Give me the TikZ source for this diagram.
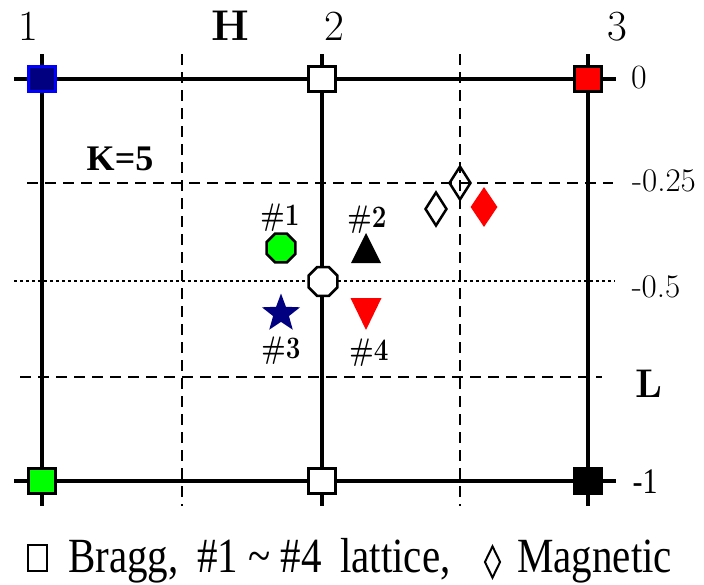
\documentclass[tikz,border=0pt]{standalone}
\usepackage{fontspec}
\newfontfamily\tnr{Liberation Serif}
\usetikzlibrary{shapes.geometric}
\definecolor{navyc}{RGB}{0,0,128}
\definecolor{bluec}{RGB}{0,0,255}
\definecolor{greenc}{RGB}{0,255,0}
\definecolor{redc}{RGB}{255,0,0}
\newcommand{\tallx}[1]{\scalebox{1}[1.2]{#1}}
\begin{document}
\begin{tikzpicture}[x=1pt,y=-1pt,
  gridln/.style={line width=3.5pt},
  dashln/.style={line width=2.5pt, dash pattern=on 11pt off 7pt},
  dotln/.style={line width=2.5pt, dash pattern=on 3pt off 3pt},
  sq/.style={rectangle, draw=black, line width=3pt, minimum width=27pt, minimum height=25pt, inner sep=0pt},
  oct/.style={regular polygon, regular polygon sides=8, draw=black, line width=2.5pt, minimum size=31pt, inner sep=0pt},
  dia/.style={diamond, draw=black, line width=2.5pt, minimum width=22pt, minimum height=34pt, inner sep=0pt},
  lab/.style={inner sep=0pt, anchor=base},
  big/.style={lab, font=\fontsize{43}{46}\selectfont},
  mid/.style={lab, font=\fontsize{33}{36}\selectfont},
  hash/.style={lab, font=\bfseries\fontsize{26}{30}\selectfont},
  leg/.style={inner sep=0pt, anchor=base west, font=\tnr\fontsize{41}{46}\selectfont}
]
\useasboundingbox (0,0) rectangle (704,584);
% grid lines
\draw[gridln] (42,54) -- (42,506);
\draw[gridln] (322,54) -- (322,506);
\draw[gridln] (588,54) -- (588,506);
\draw[gridln] (14,79) -- (616,79);
\draw[gridln] (14,481) -- (616,481);
\draw[dashln] (182,54) -- (182,506);
\draw[dashln] (460,54) -- (460,506);
\draw[dashln] (27,183) -- (613,183);
\draw[dashln] (20,377) -- (602,377);
\draw[dotln] (14,281) -- (615,281);
% Bragg squares
\node[sq, fill=navyc, draw=bluec] (b1) at (42,79) {};
\node[sq, fill=white] (b2) at (322,79) {};
\node[sq, fill=redc] (b3) at (588,79) {};
\node[sq, fill=greenc] (b4) at (42,481) {};
\node[sq, fill=white] (b5) at (322,481) {};
\node[sq, fill=black] (b6) at (588,481) {};
% lattice peaks
\node[oct, fill=greenc] (p1) at (281,248) {};
\node[oct, fill=white] (pc) at (323,281.5) {};
\coordinate (p2) at (366,248);
\fill[black] (366,233) -- (381,263) -- (351,263) -- cycle;
\coordinate (p4) at (366,314);
\fill[redc] (350.5,298) -- (381.5,298) -- (366,330) -- cycle;
\node[star, star points=5, star point ratio=2.4, minimum size=40pt, inner sep=0pt, fill=navyc] (p3) at (281,313.5) {};
% magnetic peaks
\node[dia] (m1) at (460,183) {};
\node[dia, fill=white] (m2) at (436,209) {};
\node[diamond, minimum width=27pt, minimum height=40pt, inner sep=0pt, fill=redc] (m3) at (484,207) {};
% labels
\node[hash] (l1) at (280,225) {\tallx{\#1}};
\node[hash] (l2) at (367,227) {\tallx{\#2}};
\node[hash] (l3) at (281,358) {\tallx{\#3}};
\node[hash] (l4) at (369,360) {\tallx{\#4}};
\node[big] (h1) at (28,40) {1};
\node[big] (hH) at (230,40) {\textbf{H}};
\node[big] (h2) at (334,40) {2};
\node[big] (h3) at (617,40) {3};
\node[mid, font=\fontsize{34}{36}\selectfont] (v0) at (639,88) {0};
\node[mid] (v1) at (664,191) {-0.25};
\node[mid] (v2) at (656,297) {-0.5};
\node[mid, font=\bfseries\fontsize{40}{44}\selectfont] (vL) at (649,397) {L};
\node[lab, font=\tnr\fontsize{30}{34}\selectfont] (v3) at (645,493) {\tallx{-1}};
\node[lab, font=\tnr\bfseries\fontsize{36}{40}\selectfont] (k5) at (120,170) {K=5};
% legend
\node[rectangle, draw=black, line width=2pt, minimum width=19pt, minimum height=26pt, inner sep=0pt] (lsq) at (37.5,558) {};
\node[leg] (t1) at (68,572) {\tallx{Bragg,}};
\node[leg] (t2) at (197,572) {\tallx{\#1 \textasciitilde{} \#4}};
\node[leg] (t3) at (340,572) {\tallx{lattice,}};
\node[diamond, draw=black, line width=2pt, minimum width=16pt, minimum height=32pt, inner sep=0pt] (ldia) at (492.5,562) {};
\node[leg] (t4) at (517,572) {\tallx{Magnetic}};
\end{tikzpicture}
\end{document}
